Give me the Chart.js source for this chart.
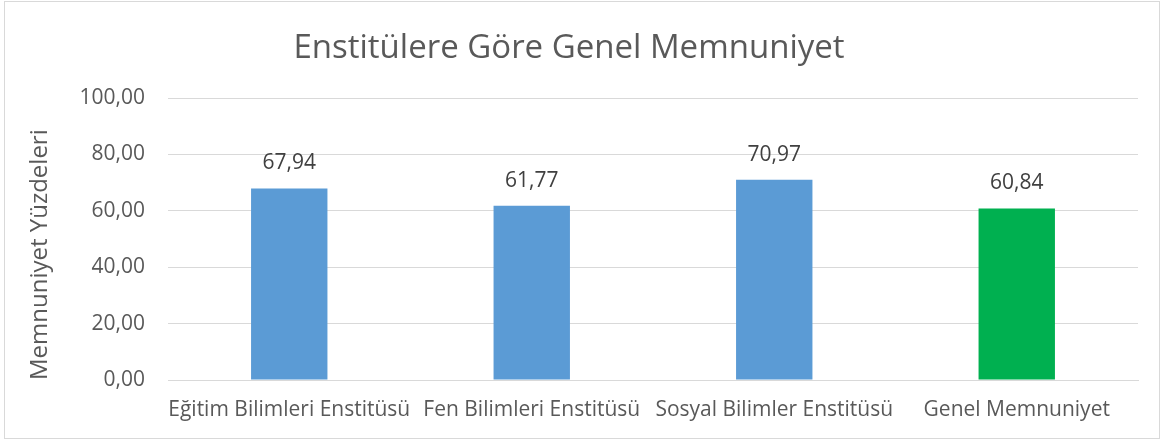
<!DOCTYPE html>
<html>
<head>
<meta charset="utf-8">
<script src="https://cdn.jsdelivr.net/npm/chart.js@4"></script>
<style>
  body { margin: 0; background: #fff; }
  #wrap { position: absolute; left: 4px; top: 1px; width: 1156px; height: 438px; border: 1px solid #d9d9d9; box-sizing: border-box; }
  canvas { position: absolute; left: 0; top: 0; }
</style>
</head>
<body>
<div id="wrap"></div>
<canvas id="myChart" width="1166" height="445"></canvas>
<script>
const categories = ['Eğitim Bilimleri Enstitüsü', 'Fen Bilimleri Enstitüsü', 'Sosyal Bilimler Enstitüsü', 'Genel Memnuniyet'];
const satisfaction = [67.94, 61.77, 70.97, 60.84];
const barColors = ['#5b9bd5', '#5b9bd5', '#5b9bd5', '#00b050'];

const fmt = v => v.toFixed(2).replace('.', ',');

// value labels above bars
const valueLabels = {
    id: 'valueLabels',
    afterDatasetsDraw(chart) {
        const c = chart.ctx;
        const meta = chart.getDatasetMeta(0);
        c.save();
        c.font = '21px "Open Sans"';
        c.fillStyle = '#404040';
        c.textAlign = 'center';
        c.textBaseline = 'middle';
        meta.data.forEach((bar, i) => {
            c.fillText(fmt(satisfaction[i]), bar.x, bar.y - 25);
        });
        c.restore();
    }
};

Chart.defaults.font.family = '"Open Sans", sans-serif';
Chart.defaults.color = '#595959';

const ctx = document.getElementById('myChart');
new Chart(ctx, {
    type: 'bar',
    data: {
        labels: categories,
        datasets: [
            {
                data: satisfaction,
                backgroundColor: barColors,
                barPercentage: 0.315,
                categoryPercentage: 1
            }
        ]
    },
    options: {
        responsive: false,
        animation: false,
        layout: { padding: { left: 0, right: 28, top: 0, bottom: 0 } },
        scales: {
            x: {
                grid: { display: false, drawTicks: false },
                border: { color: '#d9d9d9', width: 1 },
                ticks: { font: { size: 21 }, padding: 17, maxRotation: 0, autoSkip: false },
                afterFit: s => { s.height = 65; }
            },
            y: {
                min: 0,
                max: 100,
                ticks: { stepSize: 20, font: { size: 21 }, padding: 23, callback: v => fmt(v) },
                grid: { color: '#d9d9d9', drawTicks: false },
                border: { display: false },
                title: { display: true, text: 'Memnuniyet Yüzdeleri', align: 'start', font: { size: 24 }, padding: { top: 26, bottom: 0 } },
                afterFit: s => { s.width = 168; }
            }
        },
        plugins: {
            legend: { display: false },
            tooltip: { enabled: false },
            title: {
                display: true,
                text: 'Enstitülere Göre Genel Memnuniyet',
                font: { size: 33, weight: 'normal' },
                color: '#595959',
                padding: { top: 29, bottom: 29.4 }
            }
        }
    },
    plugins: [valueLabels]
});
</script>
</body>
</html>
